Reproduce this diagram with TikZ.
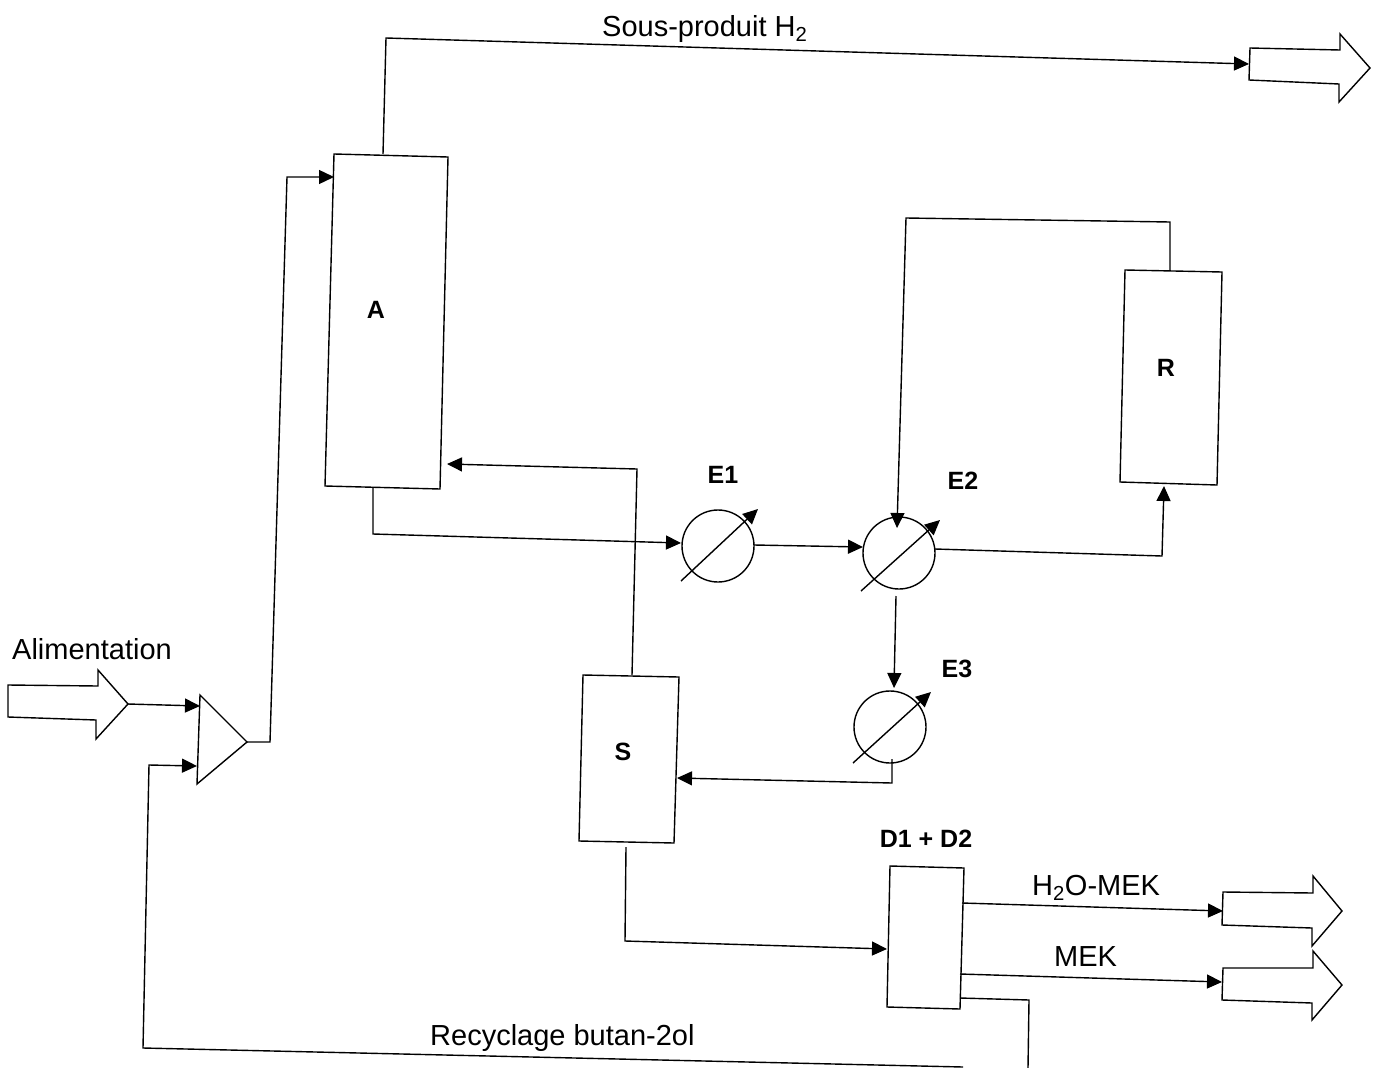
\documentclass[tikz,border=0pt]{standalone}
\usepackage{fontspec}
\setmainfont{Liberation Sans}
\usetikzlibrary{arrows.meta}
\tikzset{
  unitbox/.style={draw=black,line width=1.4pt,line join=miter},
  flowline/.style={draw=black,line width=1.4pt},
  flowarrow/.style={flowline,-{Triangle[length=15pt,width=14pt]}},
  txt/.style={inner sep=0pt,font=\fontsize{29}{32}\selectfont},
  tag/.style={inner sep=0pt,font=\fontsize{25}{28}\selectfont\bfseries},
  exch/.style={draw=black,line width=1.4pt,circle,minimum size=72pt,inner sep=0pt}
}
\begin{document}
\begin{tikzpicture}[x=1pt,y=-1pt]
\useasboundingbox (0,0) rectangle (1376,1068);
% exchangers
\node[exch] (E1c) at (718,546) {};
\node[exch] (E2c) at (899,553) {};
\node[exch] (E3c) at (890,727) {};
\coordinate (e1a) at (681,581); \coordinate (e1b) at (758,509);
\coordinate (e2a) at (861,591); \coordinate (e2b) at (940,520);
\coordinate (e3a) at (853,763); \coordinate (e3b) at (931,692);
\draw[flowarrow] (e1a) -- (e1b);
\draw[flowarrow] (e2a) -- (e2b);
\draw[flowarrow] (e3a) -- (e3b);
% units
\draw[unitbox] (334,154) -- (448,157) -- (440,489) -- (325,486) -- cycle;
\draw[unitbox] (1125,270) -- (1222,272) -- (1217,485) -- (1120,482) -- cycle;
\draw[unitbox] (583,675) -- (679,677) -- (674,843) -- (579,841) -- cycle;
\draw[unitbox] (890,866) -- (964,868) -- (960,1009) -- (887,1007) -- cycle;
\draw[unitbox] (200,695) -- (247,742) -- (197,784) -- cycle;
% block arrows
\draw[unitbox] (8,685) -- (98,686) -- (98,670) -- (128,704) -- (96,739) -- (96,720) -- (8,717) -- cycle;
\draw[unitbox] (1250,48) -- (1340,50) -- (1340,34) -- (1370,68) -- (1339,102) -- (1339,84) -- (1249,80) -- cycle;
\draw[unitbox] (1223,892) -- (1313,893) -- (1313,876) -- (1342,911) -- (1312,946) -- (1312,928) -- (1222,925) -- cycle;
\draw[unitbox] (1223,968) -- (1313,968) -- (1313,951) -- (1342,985) -- (1312,1020) -- (1312,1003) -- (1222,1000) -- cycle;
% connectors
\draw[flowarrow] (128,704) -- (200,706);
\draw[flowarrow] (247,742) -- (270,742) -- (287,177) -- (334,177);
\draw[flowline] (960,998) -- (1029,1000) -- (1028,1068);
\draw[flowarrow] (963,1067) -- (143,1048) -- (149,765) -- (197,766);
\draw[flowarrow] (383,154) -- (386,38) -- (1249,64);
\draw[flowarrow] (373,487) -- (373,534) -- (681,543);
\draw[flowarrow] (754,545) -- (863,547);
\draw[flowarrow] (935,549) -- (1162,556) -- (1164,486);
\draw[flowarrow] (1170,270) -- (1170,222) -- (906,218) -- (897,528);
\draw[flowarrow] (896,596) -- (894,688);
\draw[flowarrow] (892,759) -- (892,783) -- (677,778);
\draw[flowarrow] (632,675) -- (637,469) -- (447,464);
\draw[flowarrow] (626,847) -- (625,941) -- (887,949);
\draw[flowarrow] (962,903) -- (1223,911);
\draw[flowarrow] (960,974) -- (1222,982);
% labels
\node[txt,anchor=base west] (t1) at (602,36) {Sous-produit H\textsubscript{2}};
\node[txt,anchor=base west] (t2) at (12,659) {Alimentation};
\node[txt,anchor=base west] (t3) at (1032,895) {H\textsubscript{2}O-MEK};
\node[txt,anchor=base west] (t4) at (1054,966) {MEK};
\node[txt,anchor=base west] (t5) at (430,1045) {Recyclage butan-2ol};
\node[tag] (la) at (376,310) {A};
\node[tag] (lr) at (1166,368) {R};
\node[tag] (ls) at (623,752) {S};
\node[tag] (l1) at (723,475) {E1};
\node[tag] (l2) at (963,481) {E2};
\node[tag] (l3) at (957,669) {E3};
\node[tag] (ld) at (926,839) {D1 + D2};
\end{tikzpicture}
\end{document}
